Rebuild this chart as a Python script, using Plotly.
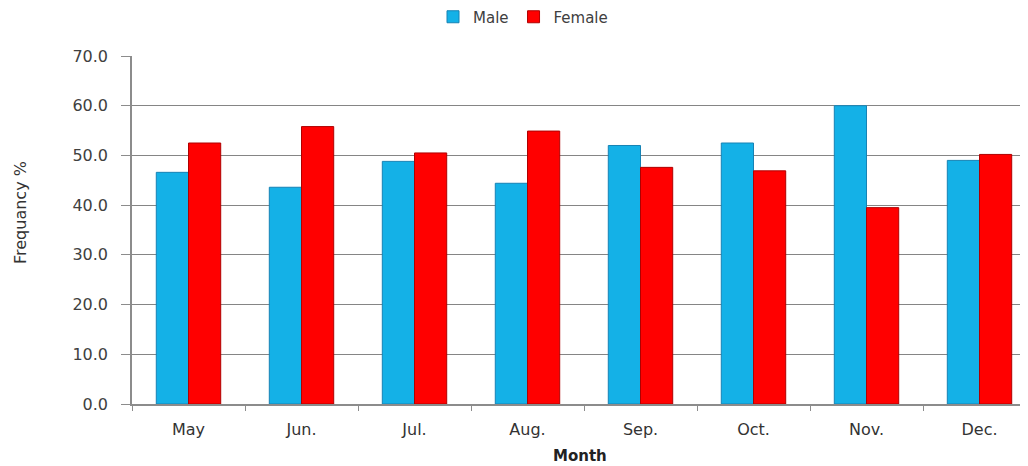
import plotly.graph_objects as go

months = ["May", "Jun.", "Jul.", "Aug.", "Sep.", "Oct.", "Nov.", "Dec."]
male = [46.6, 43.6, 48.8, 44.4, 52.0, 52.5, 60.0, 49.0]
female = [52.5, 55.8, 50.5, 54.9, 47.6, 46.9, 39.5, 50.2]
y_ticks = [0, 10, 20, 30, 40, 50, 60, 70]
y_tick_labels = ["%.1f" % v for v in y_ticks]

fig = go.Figure()
fig.add_trace(go.Bar(
    x=months, y=male, name="Male",
    marker=dict(color="#14b1e7", line=dict(color="#1683b5", width=1)),
))
fig.add_trace(go.Bar(
    x=months, y=female, name="Female",
    marker=dict(color="#ff0000", line=dict(color="#b00000", width=1)),
))

# page body has an 8px margin: figure pixel = screen pixel - 8
OFF = 8
W, H = 1028 - OFF, 466 - OFF
L, R, T, B = 132 - OFF, 0, 56 - OFF, 62
pw, ph = W - L - R, H - T - B

def px_x(p):
    return (p - OFF - L) / pw

def px_y(p):
    return (H - B - (p - OFF)) / ph

fig.update_layout(
    width=W, height=H,
    margin=dict(l=L, r=R, t=T, b=B, autoexpand=False),
    plot_bgcolor="white", paper_bgcolor="white",
    barmode="group", bargap=0.43, bargroupgap=0.0,
    font=dict(family="DejaVu Sans", color="#404040"),
    legend=dict(
        orientation="h", x=px_x(523), xanchor="center",
        y=px_y(17), yanchor="middle",
        font=dict(family="DejaVu Sans", size=15, color="#404040"),
        itemwidth=30, tracegroupgap=0,
    ),
    xaxis=dict(
        range=[-0.5, -0.5 + pw / 113.0],
        showline=True, linecolor="#8c8c8c", linewidth=1.5,
        ticks="outside", tickson="boundaries", ticklen=5, tickcolor="#8c8c8c",
        ticklabelstandoff=10,
        tickfont=dict(family="DejaVu Sans", size=16, color="#333333"),
        showgrid=False, fixedrange=True,
    ),
    yaxis=dict(
        range=[0, 70], tickvals=y_ticks, ticktext=y_tick_labels,
        showline=True, linecolor="#8c8c8c", linewidth=1.5,
        ticks="outside", ticklen=9, tickcolor="#8c8c8c",
        ticklabelstandoff=10,
        tickfont=dict(family="DejaVu Sans", size=16, color="#404040"),
        showgrid=True, gridcolor="#858585", gridwidth=1.2,
        zeroline=False,
    ),
    annotations=[
        dict(text="Frequancy %", x=px_x(20), y=px_y(213), xref="paper", yref="paper",
             textangle=-90, showarrow=False, xanchor="center", yanchor="middle",
             font=dict(family="DejaVu Sans", size=16, color="#333333")),
        dict(text="<b>Month</b>", x=px_x(580), y=px_y(456), xref="paper", yref="paper",
             showarrow=False, xanchor="center", yanchor="middle",
             font=dict(family="DejaVu Sans", size=15, color="#222222")),
    ],
)

fig.write_html("out.html")
